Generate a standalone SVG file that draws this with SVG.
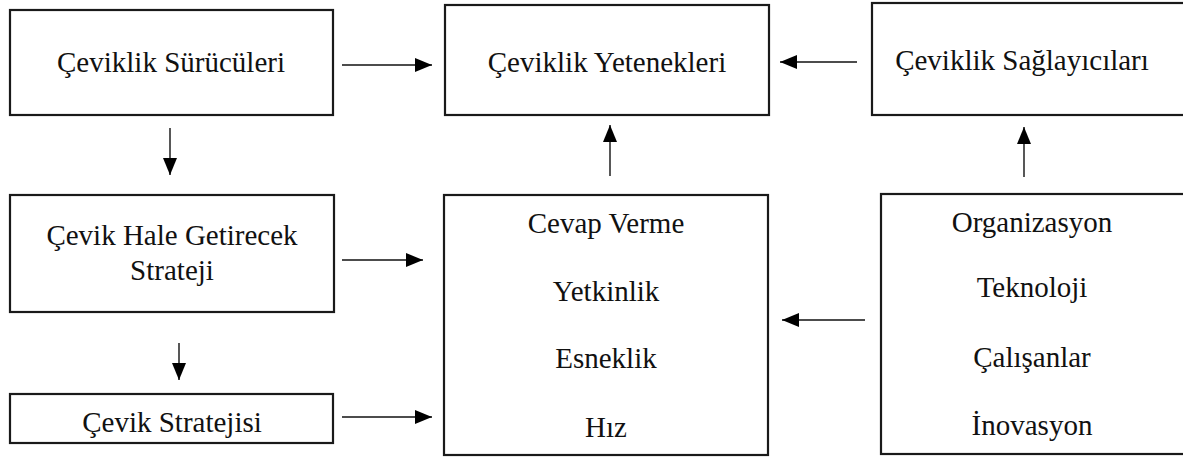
<svg xmlns="http://www.w3.org/2000/svg" width="1183" height="457" viewBox="0 0 1183 457" font-family="Liberation Serif, Times New Roman, serif">
<style>
.box{fill:#fff;stroke:#1a1a1a;stroke-width:2.2}
.t{font-size:29px;fill:#111;text-anchor:middle}
.c{stroke:#111;stroke-width:1.4;fill:none;marker-end:url(#ah)}
</style>
<defs>
<marker id="ah" markerUnits="userSpaceOnUse" markerWidth="17" markerHeight="17" viewBox="0 0 17 17" refX="17" refY="8.5" orient="auto">
<path d="M0,1.5 L17,8.5 L0,15.5 Z" fill="#000"/>
</marker>
</defs>
<rect width="1183" height="457" fill="#fff"/>
<g id="n1"><rect class="box" x="10" y="10" width="323" height="105"/><text class="t" x="171" y="72">Çeviklik Sürücüleri</text></g>
<g id="n2"><rect class="box" x="445" y="5" width="324" height="110"/><text class="t" x="607" y="72">Çeviklik Yetenekleri</text></g>
<g id="n3"><rect class="box" x="872" y="3" width="330" height="112"/><text class="t" x="1022" y="70">Çeviklik Sağlayıcıları</text></g>
<g id="n4"><rect class="box" x="10" y="195" width="324" height="117"/><text class="t" x="172" y="245">Çevik Hale Getirecek</text><text class="t" x="172" y="280">Strateji</text></g>
<g id="n5"><rect class="box" x="10" y="394" width="323" height="49"/><text class="t" x="172" y="432">Çevik Stratejisi</text></g>
<g id="n6"><rect class="box" x="444" y="195" width="324" height="260"/><text class="t" x="606" y="233">Cevap Verme</text><text class="t" x="606" y="301">Yetkinlik</text><text class="t" x="606" y="368">Esneklik</text><text class="t" x="606" y="437">Hız</text></g>
<g id="n7"><rect class="box" x="881" y="194" width="320" height="260"/><text class="t" x="1032" y="232">Organizasyon</text><text class="t" x="1032" y="297">Teknoloji</text><text class="t" x="1032" y="367">Çalışanlar</text><text class="t" x="1032" y="435">İnovasyon</text></g>
<g id="connectors">
<line class="c" x1="342" y1="65" x2="432" y2="65"/>
<line class="c" x1="857" y1="62" x2="780" y2="62"/>
<line class="c" x1="170" y1="128" x2="170" y2="175"/>
<line class="c" x1="610" y1="176" x2="610" y2="125"/>
<line class="c" x1="1024" y1="177" x2="1024" y2="127"/>
<line class="c" x1="342" y1="260" x2="423" y2="260"/>
<line class="c" x1="179" y1="343" x2="179" y2="380"/>
<line class="c" x1="342" y1="417" x2="432" y2="417"/>
<line class="c" x1="865" y1="320" x2="782" y2="320"/>
</g>
</svg>
